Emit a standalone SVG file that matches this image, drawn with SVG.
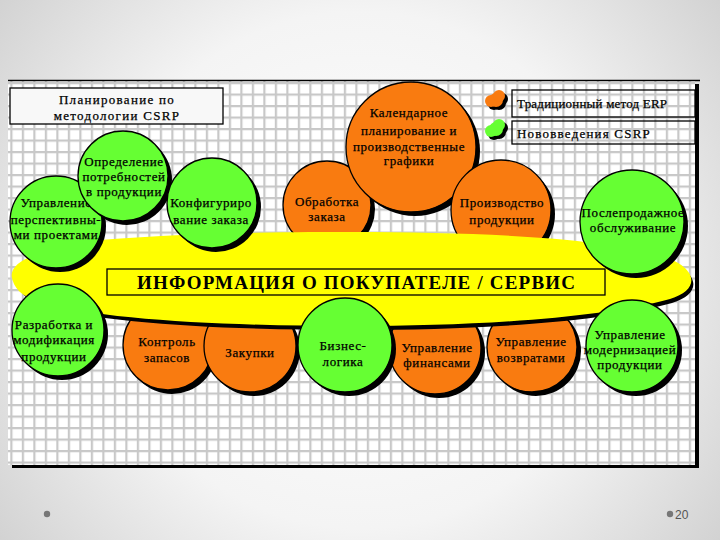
<svg xmlns="http://www.w3.org/2000/svg" width="720" height="540" viewBox="0 0 720 540">
<defs>
<radialGradient id="bg" cx="360" cy="270" r="470" gradientUnits="userSpaceOnUse">
<stop offset="0" stop-color="#ffffff"/><stop offset="0.55" stop-color="#f4f4f4"/><stop offset="1" stop-color="#cfcfcf"/>
</radialGradient>
<pattern id="grid" x="10.3" y="82" width="11.5" height="11.5" patternUnits="userSpaceOnUse">
<rect width="11.5" height="11.5" fill="#ffffff"/>
<rect width="11.5" height="2.2" fill="#c8c8c8"/>
<rect width="2.2" height="11.5" fill="#c8c8c8"/>
</pattern>
<style>
.t{font-family:"Liberation Serif","Times New Roman",serif;font-size:13px;text-anchor:middle;fill:#000;stroke:#000;stroke-width:0.25;letter-spacing:0.6px}
.sh{fill:#000}
.g{fill:#66ff33;stroke:#000;stroke-width:1.3}
.o{fill:#f97b10;stroke:#000;stroke-width:1.3}
.box{fill:none;stroke:#000;stroke-width:1.3}
</style>
</defs>
<rect width="720" height="540" fill="url(#bg)"/>
<g id="frame">
<rect x="12" y="84" width="687" height="384" fill="#000"/>
<rect x="8" y="80" width="687" height="385" fill="url(#grid)"/>
<line x1="8" y1="80.5" x2="700" y2="80.5" stroke="#000" stroke-width="1.3"/>
</g>
<g id="title">
<rect x="10" y="88" width="213" height="36" fill="#f8f8f8" stroke="#000" stroke-width="1.3"/>
<text class="t" x="117" y="104" style="letter-spacing:1.3px">Планирование по</text>
<text class="t" x="117" y="120" style="letter-spacing:1.3px">методологии  CSRP</text>
</g>
<g id="legend">
<g id="legend-erp">
<circle cx="499" cy="103" r="7" class="sh"/><circle cx="494" cy="104" r="6" class="sh"/><circle cx="502" cy="99" r="6" class="sh"/>
<circle cx="496" cy="100" r="7" fill="#f97b10"/><circle cx="491" cy="101" r="6" fill="#f97b10"/><circle cx="499" cy="96" r="6" fill="#f97b10"/>
<rect x="512" y="90" width="183" height="27" class="box"/>
<text class="t" x="517" y="108" style="text-anchor:start;letter-spacing:0.2px">Традиционный метод ERP</text>
</g>
<g id="legend-csrp">
<circle cx="499" cy="132" r="7" class="sh"/><circle cx="494" cy="134" r="6" class="sh"/><circle cx="502" cy="128" r="6" class="sh"/>
<circle cx="496" cy="129" r="7" fill="#66ff33"/><circle cx="491" cy="131" r="6" fill="#66ff33"/><circle cx="499" cy="125" r="6" fill="#66ff33"/>
<rect x="512" y="121" width="183" height="23" class="box"/>
<text class="t" x="517" y="138" style="text-anchor:start;letter-spacing:1.2px">Нововведения CSRP</text>
</g>
</g>
<g id="n-obrabotka"><circle cx="331" cy="209" r="44" class="sh"/><circle cx="327" cy="205" r="44" class="o"/>
<text class="t" x="327" y="206">Обработка</text><text class="t" x="327" y="221">заказа</text></g>
<g id="n-kalendar"><circle cx="415" cy="151" r="65" class="sh"/><circle cx="411" cy="147" r="65" class="o"/>
<text class="t" x="409" y="117">Календарное</text><text class="t" x="409" y="135">планирование и</text><text class="t" x="409" y="151">производственные</text><text class="t" x="409" y="165">графики</text></g>
<g id="n-proizvodstvo"><circle cx="505" cy="214" r="50" class="sh"/><circle cx="501" cy="210" r="50" class="o"/>
<text class="t" x="502" y="207">Производство</text><text class="t" x="502" y="224">продукции</text></g>
<g id="n-kontrol"><circle cx="172" cy="349" r="45" class="sh"/><circle cx="168" cy="345" r="45" class="o"/>
<text class="t" x="167" y="346">Контроль</text><text class="t" x="167" y="362">запасов</text></g>
<g id="n-zakupki"><circle cx="254" cy="350" r="46" class="sh"/><circle cx="250" cy="346" r="46" class="o"/>
<text class="t" x="250" y="357">Закупки</text></g>
<g id="n-finansy"><circle cx="439" cy="352" r="46" class="sh"/><circle cx="435" cy="348" r="46" class="o"/>
<text class="t" x="437" y="352">Управление</text><text class="t" x="437" y="367">финансами</text></g>
<g id="n-vozvraty"><circle cx="536" cy="351" r="45" class="sh"/><circle cx="532" cy="347" r="45" class="o"/>
<text class="t" x="531" y="346">Управление</text><text class="t" x="531" y="362">возвратами</text></g>
<g id="n-info">
<path d="M18,282 C14,266 44,251 104,244 C204,236 300,236 354,236 C480,236 602,242 662,259 C702,272 702,294 672,303 C602,322 482,330 354,330 C232,330 104,324 44,306 C24,300 20,291 18,282 Z" fill="#000"/>
<path d="M12,278 C8,262 40,247 100,240 C200,232 300,232 352,232 C480,232 600,238 660,255 C700,268 700,290 670,299 C600,318 480,326 352,326 C230,326 100,320 40,302 C20,296 14,287 12,278 Z" fill="#ffff00"/>
<rect x="107" y="269" width="498" height="26" fill="#ffff00" stroke="#000" stroke-width="1.3"/>
<text x="137" y="289" textLength="438" lengthAdjust="spacing" style="font-family:'Liberation Serif','Times New Roman',serif;font-size:19px;font-weight:bold;fill:#000">ИНФОРМАЦИЯ О ПОКУПАТЕЛЕ / СЕРВИС</text>
</g>
<g id="n-perspektiva"><circle cx="60" cy="226" r="46" class="sh"/><circle cx="56" cy="222" r="46" class="g"/>
<text class="t" x="56" y="207">Управление</text><text class="t" x="56" y="224">перспективны-</text><text class="t" x="56" y="239">ми проектами</text></g>
<g id="n-potrebnosti"><circle cx="127" cy="180" r="45" class="sh"/><circle cx="123" cy="176" r="45" class="g"/>
<text class="t" x="124" y="166">Определение</text><text class="t" x="124" y="181">потребностей</text><text class="t" x="124" y="196">в продукции</text></g>
<g id="n-konfig"><circle cx="216" cy="207" r="45" class="sh"/><circle cx="212" cy="203" r="45" class="g"/>
<text class="t" x="211" y="207">Конфигуриро</text><text class="t" x="211" y="224">вание заказа</text></g>
<g id="n-posleprodazh"><circle cx="636" cy="226" r="52" class="sh"/><circle cx="632" cy="222" r="52" class="g"/>
<text class="t" x="633" y="217">Послепродажное</text><text class="t" x="633" y="232">обслуживание</text></g>
<g id="n-razrabotka"><circle cx="62" cy="334" r="46" class="sh"/><circle cx="58" cy="330" r="46" class="g"/>
<text class="t" x="54" y="329">Разработка и</text><text class="t" x="54" y="344">модификация</text><text class="t" x="54" y="361">продукции</text></g>
<g id="n-biznes"><circle cx="349" cy="349" r="47" class="sh"/><circle cx="345" cy="345" r="47" class="g"/>
<text class="t" x="343" y="350">Бизнес-</text><text class="t" x="343" y="366">логика</text></g>
<g id="n-modern"><circle cx="636" cy="350" r="46" class="sh"/><circle cx="632" cy="346" r="46" class="g"/>
<text class="t" x="630" y="339">Управление</text><text class="t" x="630" y="354">модернизацией</text><text class="t" x="630" y="369">продукции</text></g>
<g id="footer">
<circle cx="47" cy="514" r="3.2" fill="#777"/>
<circle cx="670" cy="514" r="3.2" fill="#777"/>
<text x="675" y="519" style="font-family:'Liberation Sans',Arial,sans-serif;font-size:12px;fill:#555">20</text>
</g>
</svg>
